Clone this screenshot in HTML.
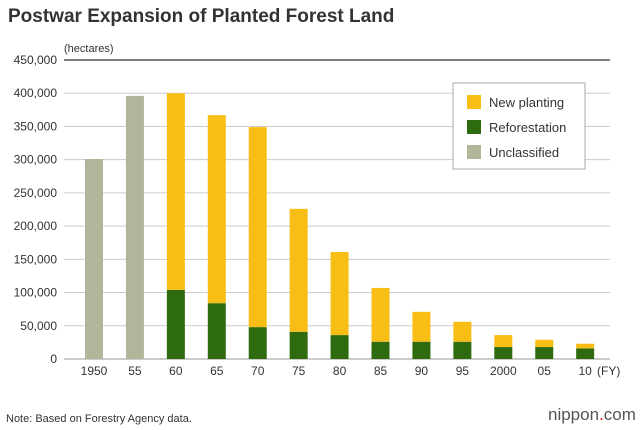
<!DOCTYPE html>
<html><head><meta charset="utf-8">
<style>
body{margin:0;background:#fff;font-family:"Liberation Sans",Arial,sans-serif;}
svg{display:block}
</style></head>
<body>
<svg id="chart" width="640" height="430" viewBox="0 0 640 430">
<text x="8" y="22" font-size="19" font-weight="bold" fill="#333">Postwar Expansion of Planted Forest Land</text>
<text x="64" y="52" font-size="11" fill="#333">(hectares)</text>
<g id="grid"></g>
<g id="bars"></g>
<g id="xlabels"></g>
<text x="597" y="375" font-size="12" fill="#333">(FY)</text>
<g>
<rect x="453" y="83" width="132" height="86" fill="#fff" stroke="#aaa"/>
<rect x="467" y="95" width="14" height="14" fill="#F9BE16"/>
<text x="489" y="107" font-size="13" fill="#333">New planting</text>
<rect x="467" y="120" width="14" height="14" fill="#2E6B0F"/>
<text x="489" y="132" font-size="13" fill="#333">Reforestation</text>
<rect x="467" y="145" width="14" height="14" fill="#B1B69B"/>
<text x="489" y="157" font-size="13" fill="#333">Unclassified</text>
</g>
<text x="6" y="422" font-size="11" fill="#333">Note: Based on Forestry Agency data.</text>
<text x="548" y="420" font-size="17" fill="#555">nippon<tspan fill="#d00">.</tspan>com</text>
</svg>
<script>
const categories=["1950","55","60","65","70","75","80","85","90","95","2000","05","10"];
const unclassified=[301000,396000,0,0,0,0,0,0,0,0,0,0,0];
const reforestation=[0,0,104000,84000,48000,41000,36000,26000,26000,26000,18000,18000,16000];
const newPlanting=[0,0,296000,283000,301000,185000,125000,81000,45000,30000,18000,11000,7000];
const yTicks=[0,50000,100000,150000,200000,250000,300000,350000,400000,450000];
const NS="http://www.w3.org/2000/svg";
const y0=359,y1=60,yMax=450000,xL=64,xR=610;
function yS(v){return y0-(v/yMax)*(y0-y1);}
function xS(i){return 94+i*40.93;}
const bw=18;
function mk(tag,attrs,parent){const e=document.createElementNS(NS,tag);for(const k in attrs)e.setAttribute(k,attrs[k]);parent.appendChild(e);return e;}
const grid=document.getElementById('grid'),bars=document.getElementById('bars'),xl=document.getElementById('xlabels');
yTicks.forEach(t=>{
 const l=mk('line',{x1:xL,x2:xR,y1:yS(t),y2:yS(t),stroke:t===yMax?'#333':(t===0?'#999':'#ccc'),'stroke-width':t===yMax?1.2:1},grid);
 
 
 const tx=mk('text',{x:57,y:yS(t)+4,'font-size':12,'text-anchor':'end',fill:'#333'},grid);
 tx.textContent=t.toLocaleString('en-US');
 
 
});
categories.forEach((c,i)=>{
 const x=xS(i)-bw/2;
 if(unclassified[i]>0){
  const r=mk('rect',{x:x,y:yS(unclassified[i]),width:bw,height:y0-yS(unclassified[i]),fill:'#B1B69B'},bars);
  
  
 }
 if(reforestation[i]>0){
  const r=mk('rect',{x:x,y:yS(reforestation[i]),width:bw,height:y0-yS(reforestation[i]),fill:'#2E6B0F'},bars);
  
  
 }
 if(newPlanting[i]>0){
  const top=reforestation[i]+newPlanting[i];
  const r=mk('rect',{x:x,y:yS(top),width:bw,height:yS(reforestation[i])-yS(top),fill:'#F9BE16'},bars);
  
  
 }
 const t=mk('text',{x:xS(i),y:375,'font-size':12,'text-anchor':'middle',fill:'#333'},xl);
 t.textContent=c;
 
 
});
</script>
</body></html>
